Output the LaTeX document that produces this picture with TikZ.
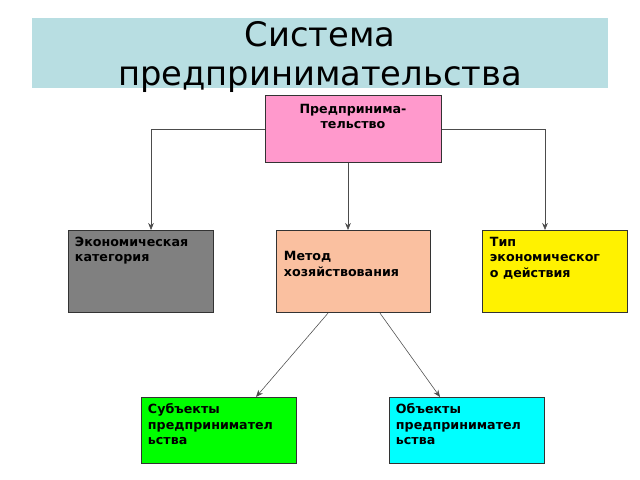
\documentclass[tikz,border=0pt]{standalone}
\usepackage{fontspec}
\setmainfont{DejaVu Sans}
\usetikzlibrary{positioning, arrows.meta}
\definecolor{banner}{RGB}{184,222,226}
\definecolor{pinkbox}{RGB}{255,153,204}
\definecolor{peachbox}{RGB}{250,192,160}
\definecolor{cyanbox}{RGB}{0,255,255}
\tikzset{
x=0.025cm, y=-0.025cm,
box/.style={draw=black!80, thick, minimum width=4.4cm, minimum height=2cm, font=\bfseries\fontsize{9}{11}\selectfont}, % common box look
link/.style={-{Stealth[length=5pt,width=4pt]}, draw=black!70}, % connector with small filled tip
}
\begin{document}
\begin{tikzpicture}
\useasboundingbox (0,0) rectangle (640,480);

\fill[banner] (32,18) rectangle (608,88);
\node[align=center, font=\fontsize{24}{28}\selectfont] (title) at (320,57) {Система\\ предпринимательства};

\node[box, fill=pinkbox, minimum height=1.675cm, anchor=north west, inner sep=0pt] (root) at (265,95) {};
\node[font=\bfseries\fontsize{9}{11}\selectfont, align=center, anchor=north] (roottext) at (353,99) {Предпринима-\\тельство};

\node[box, fill=gray, minimum width=3.625cm, minimum height=2.05cm, anchor=north west] (econ) at (68,230) {};
\node[font=\bfseries\fontsize{9}{11}\selectfont, align=left, anchor=north west] (econtext) at (70,232) {Экономическая\\категория};

\node[box, fill=peachbox, minimum width=3.85cm, minimum height=2.05cm, anchor=north west] (method) at (276,230) {};
\node[font=\bfseries\fontsize{9}{11}\selectfont, align=left, anchor=west] (methodtext) at (279,264) {Метод\\хозяйствования};

\node[box, fill=yellow, minimum width=3.625cm, minimum height=2.05cm, anchor=north west] (type) at (482,230) {};
\node[font=\bfseries\fontsize{9}{11}\selectfont, align=left, anchor=north west] (typetext) at (485,232) {Тип\\экономическог\\о действия};

\node[box, fill=green, minimum width=3.875cm, minimum height=1.65cm, anchor=north west] (subj) at (141,397) {};
\node[font=\bfseries\fontsize{9}{11}\selectfont, align=left, anchor=north west] (subjtext) at (143,399) {Субъекты\\предпринимател\\ьства};

\node[box, fill=cyanbox, minimum width=3.875cm, minimum height=1.65cm, anchor=north west] (obj) at (389,397) {};
\node[font=\bfseries\fontsize{9}{11}\selectfont, align=left, anchor=north west] (objtext) at (391,399) {Объекты\\предпринимател\\ьства};

% connectors
\draw[link] (root.west) -| (econ.north -| 151,0);
\draw[link] (root.east) -| (type.north -| 545,0);
\draw[link] (root.south -| 348,0) -- (method.north -| 348,0);
\draw[link] (method.south -| 328,0) -- (subj.north -| 256,0);
\draw[link] (method.south -| 380,0) -- (obj.north -| 440,0);
\end{tikzpicture}
\end{document}
